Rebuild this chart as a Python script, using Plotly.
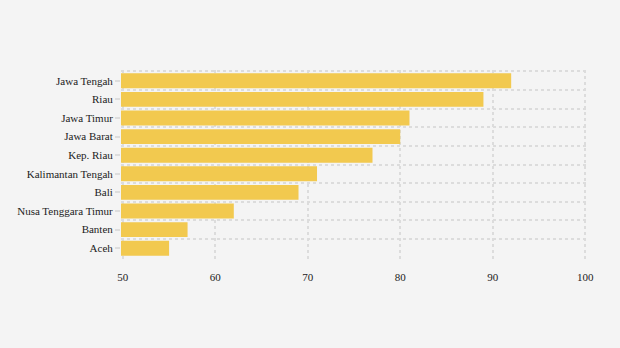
import plotly.graph_objects as go

provinces = ["Jawa Tengah", "Riau", "Jawa Timur", "Jawa Barat", "Kep. Riau",
             "Kalimantan Tengah", "Bali", "Nusa Tenggara Timur", "Banten", "Aceh"]
values = [92, 89, 81, 80, 77, 71, 69, 62, 57, 55]
x_ticks = [50, 60, 70, 80, 90, 100]

bar_color = "#f2c94f"
grid_color = "#dcdcdc"
bg = "#f4f4f4"
font_family = "Liberation Serif"

fig = go.Figure()
fig.add_trace(go.Bar(x=values, y=provinces, orientation="h",
                     marker=dict(color=bar_color, line=dict(width=0)),
                     showlegend=False))
fig.add_trace(go.Scatter(x=values, y=provinces, yaxis="y2", mode="markers",
                         marker=dict(opacity=0), hoverinfo="skip", showlegend=False))

yrange = [9.58, -0.58]

fig.update_layout(
    width=620, height=348,
    margin=dict(l=121, r=33, t=70, b=89),
    paper_bgcolor=bg, plot_bgcolor=bg,
    font=dict(family=font_family, size=11, color="#222222"),
    bargap=0.2,
    xaxis=dict(range=[49.8, 100.2], tickvals=x_ticks, showgrid=True,
               gridcolor=grid_color, griddash="3px,3px", gridwidth=1.5,
               zeroline=False, showline=False, ticks="outside", ticklen=8,
               tickcolor=bg,
               tickfont=dict(family=font_family, size=11, color="#222222")),
    yaxis=dict(type="category", categoryarray=provinces, range=yrange,
               tickson="boundaries", showgrid=True, gridcolor=grid_color,
               griddash="3px,3px", gridwidth=1.5, ticks="",
               showticklabels=False, zeroline=False, showline=False),
    yaxis2=dict(type="category", categoryarray=provinces, range=yrange,
                overlaying="y", side="left", showgrid=False, ticks="outside",
                ticklen=5, tickcolor="#dddddd", tickwidth=1.5,
                showticklabels=True,
                tickfont=dict(family=font_family, size=11, color="#222222"),
                zeroline=False, showline=False),
)

fig.write_html("out.html")
